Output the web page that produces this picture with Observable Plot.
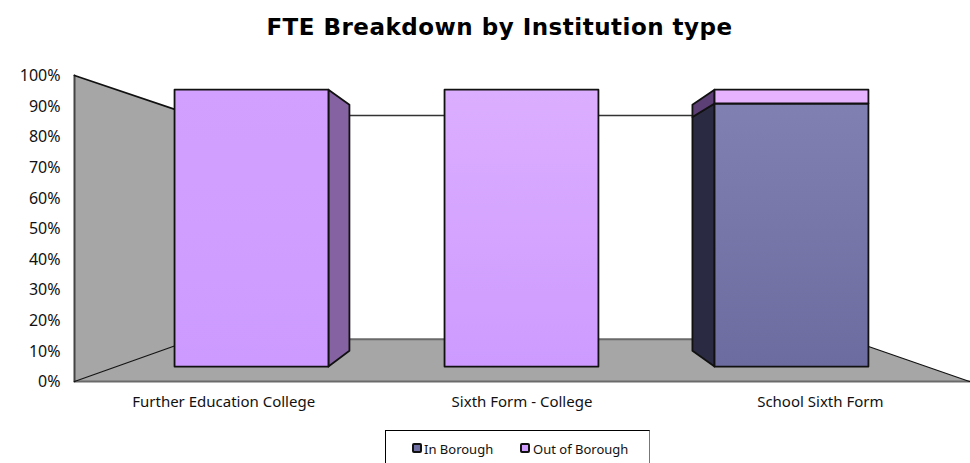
<!DOCTYPE html>
<html>
<head>
<meta charset="utf-8">
<script src="https://cdn.jsdelivr.net/npm/d3@7"></script>
<script src="https://cdn.jsdelivr.net/npm/@observablehq/plot@0.6"></script>
<style>
html,body{margin:0;padding:0;background:#fff;overflow:hidden;width:970px;height:463px}
#title{height:50px;box-sizing:border-box;padding-top:11px;padding-left:29px;text-align:center;font:bold 23px/32px "DejaVu Sans";letter-spacing:.5px;color:#000;white-space:nowrap}
#chart{height:375px}
#chart svg{display:block;background:transparent}
#legend{position:absolute;left:385px;top:430px;width:265px;height:36px;box-sizing:border-box;border:1px solid #000;border-right-color:#777;font:13px "Noto Sans",sans-serif;color:#111}
#legend span{position:absolute;top:11px;white-space:nowrap;line-height:14px}
#legend i{position:absolute;top:12px;width:6px;height:6px;border:2px solid #111;border-radius:2px;display:block}
</style>
</head>
<body>
<div id="title">FTE Breakdown by Institution type</div>
<div id="chart"></div>
<div id="legend">
  <i style="left:26px;background:#6f6fa3"></i><span style="left:38px">In Borough</span>
  <i style="left:134px;background:#cf9eff"></i><span style="left:147px">Out of Borough</span>
</div>
<script>
// Data
const categories = ["Further Education College", "Sixth Form - College", "School Sixth Form"];
const inBorough = [0, 0, 95];
const outOfBorough = [100, 100, 5];
const yTicks = [0,10,20,30,40,50,60,70,80,90,100];

// Scene description (data units: x = category slots, y = percent; depth = perspective factor)
const vanish = [1.4816, 51.3];
const depthNear = 1, depthBarFront = 0.905, depthBarBack = 0.804, depthWall = 0.731;
const barHalf = 0.285;

const proj = (u, v, s) => ({x: vanish[0] + (u - vanish[0]) * s, y: vanish[1] + (v - vanish[1]) * s});
const poly = (id, pts) => pts.map(([u, v, s]) => ({id, ...proj(u, v, s)}));

const wallLeft = poly("wall", [[0,0,depthNear],[0,100,depthNear],[0,100,depthWall],[0,0,depthWall]]);
const floor = poly("floor", [[0,0,depthNear],[3,0,depthNear],[3,0,depthWall],[0,0,depthWall]]);
const backWall = poly("back", [[0,0,depthWall],[0,100,depthWall],[3,100,depthWall],[3,0,depthWall]]);
const line = (id, a, b) => poly(id, [a, b]);

const sides = [], fronts = [];
categories.forEach((c, i) => {
  const l = i + 0.5 - barHalf, r = i + 0.5 + barHalf;
  const segs = [["in", 0, inBorough[i]], ["out", inBorough[i], inBorough[i] + outOfBorough[i]]];
  for (const [k, a, b] of segs) {
    if (b <= a) continue;
    const id = c + k;
    let sx = null;
    if (r < vanish[0]) sx = r;
    else if (l > vanish[0]) sx = l;
    if (sx !== null) {
      const fill = k === "in" ? "#2a2b42" : (i === 0 ? "#8562a2" : "#5c4075");
      sides.push({fill, pts: poly(id + "s", [[sx,a,depthBarFront],[sx,b,depthBarFront],[sx,b,depthBarBack],[sx,a,depthBarBack]])});
    }
    const fill = k === "in" ? "url(#gIn)" : (i === 2 ? "#e6b3ff" : i === 0 ? "url(#gOutA)" : "url(#gOut)");
    fronts.push({fill, pts: poly(id + "f", [[l,a,depthBarFront],[l,b,depthBarFront],[r,b,depthBarFront],[r,a,depthBarFront]])});
  }
});

const closed = (pts, o) => Plot.line(pts, {x:"x", y:"y", curve:"linear-closed", strokeLinejoin:"round", ...o});
const seg = (pts, o) => Plot.line(pts, {x:"x", y:"y", ...o});

const gradients = () => {
  const svg = d3.create("svg:defs");
  const mk = (id, top, bottom) => {
    const g = svg.append("linearGradient").attr("id", id).attr("x1",0).attr("x2",0).attr("y1",0).attr("y2",1).attr("gradientUnits","objectBoundingBox");
    g.append("stop").attr("offset",0).attr("stop-color",top);
    g.append("stop").attr("offset",1).attr("stop-color",bottom);
  };
  mk("gIn", "#8080b2", "#6c6ca0");
  mk("gOut", "#dcaeff", "#cd9bff");
  mk("gOutA", "#d2a1ff", "#cd9bff");
  return svg.node();
};

const chart = Plot.plot({
  width: 970,
  height: 375,
  margin: 0,
  x: {type:"linear", domain:[0,3], range:[74,969], axis:null},
  y: {type:"linear", domain:[0,100], range:[331,25], axis:null},
  style: {background:"transparent", overflow:"visible"},
  marks: [
    gradients,
    closed(backWall, {fill:"#fff", stroke:"none"}),
    seg(line("backTop",[0,100,depthWall],[3,100,depthWall]), {stroke:"#333", strokeWidth:1.5}),
    closed(floor, {fill:"#a6a6a6", stroke:"none"}),
    closed(wallLeft, {fill:"#a6a6a6", stroke:"none"}),
    seg(line("floorBack",[0,0,depthWall],[3,0,depthWall]), {stroke:"#6a6a6a", strokeWidth:2}),
    seg(line("floorFront",[0,0,depthNear],[3,0,depthNear]), {stroke:"#6a6a6a", strokeWidth:2}),
    seg(line("wallFront",[0,0,depthNear],[0,100,depthNear]), {stroke:"#444", strokeWidth:2}),
    seg(line("wallTop",[0,100,depthNear],[0,100,depthWall]), {stroke:"#111", strokeWidth:1.8}),
    seg(line("wallBottom",[0,0,depthNear],[0,0,depthWall]), {stroke:"#111", strokeWidth:1.2}),
    seg(line("floorRight",[3,0,depthNear],[3,0,depthWall]), {stroke:"#111", strokeWidth:1.2}),
    ...sides.map(d => closed(d.pts, {fill:d.fill, stroke:"#111", strokeWidth:1.8})),
    ...fronts.map(d => closed(d.pts, {fill:d.fill, stroke:"#111", strokeWidth:1.8})),
    Plot.text(yTicks, {x:()=>0, y:d=>d, text:d=>d+"%", dx:-14, dy:0.5, textAnchor:"end", fontSize:16, fontFamily:"Noto Sans", fill:"#111"}),
    Plot.text(categories, {x:(d,i)=>i+0.5, y:()=>0, text:d=>d, dy:21, fontSize:15, fontFamily:"Noto Sans", fill:"#111"})
  ]
});
document.getElementById("chart").appendChild(chart);
</script>
</body>
</html>
